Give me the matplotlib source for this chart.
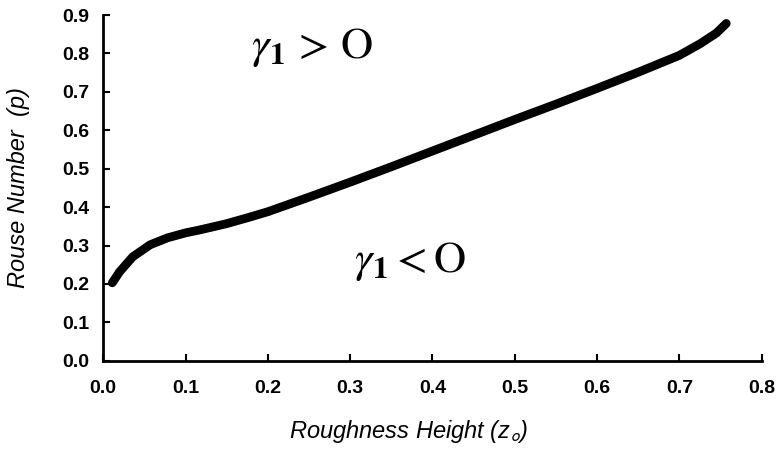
import matplotlib
matplotlib.use("Agg")
import matplotlib.pyplot as plt

# data
roughness = [0.011, 0.020, 0.036, 0.057, 0.078, 0.100, 0.118, 0.150, 0.178, 0.200, 0.250,
             0.300, 0.350, 0.400, 0.450, 0.500, 0.550, 0.600, 0.650, 0.700, 0.725,
             0.745, 0.757]
rouse = [0.203, 0.232, 0.271, 0.302, 0.320, 0.333, 0.341, 0.357, 0.374, 0.388, 0.426,
         0.465, 0.505, 0.546, 0.587, 0.628, 0.668, 0.709, 0.751, 0.795, 0.825,
         0.853, 0.878]
xticks = [0.0, 0.1, 0.2, 0.3, 0.4, 0.5, 0.6, 0.7, 0.8]
yticks = [0.0, 0.1, 0.2, 0.3, 0.4, 0.5, 0.6, 0.7, 0.8, 0.9]

plt.rcParams['font.family'] = ['Liberation Sans', 'DejaVu Sans']
plt.rcParams['mathtext.fontset'] = 'stix'

fig = plt.figure(figsize=(7.82, 4.55), dpi=100)
ax = fig.add_axes([0.132, 0.207, 0.842, 0.760])

ax.plot(roughness, rouse, color='black', lw=6.3, solid_capstyle='round',
        solid_joinstyle='round')

ax.set_xlim(0, 0.8)
ax.set_ylim(0, 0.9)
ax.set_xticks(xticks)
ax.set_yticks(yticks)
ax.set_xticklabels([f"{v:.1f}" for v in xticks])
ax.set_yticklabels([f"{v:.1f}" for v in yticks])
ax.tick_params(direction='in', length=5, width=1.5, labelsize=14)
ax.tick_params(axis='x', pad=14)
ax.tick_params(axis='y', pad=10)
for lab in ax.get_xticklabels() + ax.get_yticklabels():
    lab.set_fontweight('bold')
ax.spines['top'].set_visible(False)
ax.spines['right'].set_visible(False)
for s in ('left', 'bottom'):
    ax.spines[s].set_linewidth(2)

ax.set_xlabel(r'Roughness Height (z$_{\mathsf{o}}$)', fontsize=17, style='italic')
ax.xaxis.set_label_coords(0.463, -0.165)
ax.set_ylabel('Rouse Number  (p)', fontsize=17, style='italic')
ax.yaxis.set_label_coords(-0.111, 0.5)

ax.text(0.254, 0.815, r'$\gamma_\mathbf{1}\,>\,\mathrm{O}$', fontsize=32, ha='center', va='center')
ax.text(0.373, 0.258, r'$\gamma_\mathbf{1}{<}\mathrm{O}$', fontsize=32, ha='center', va='center')

fig.savefig('out.png', dpi=100)
